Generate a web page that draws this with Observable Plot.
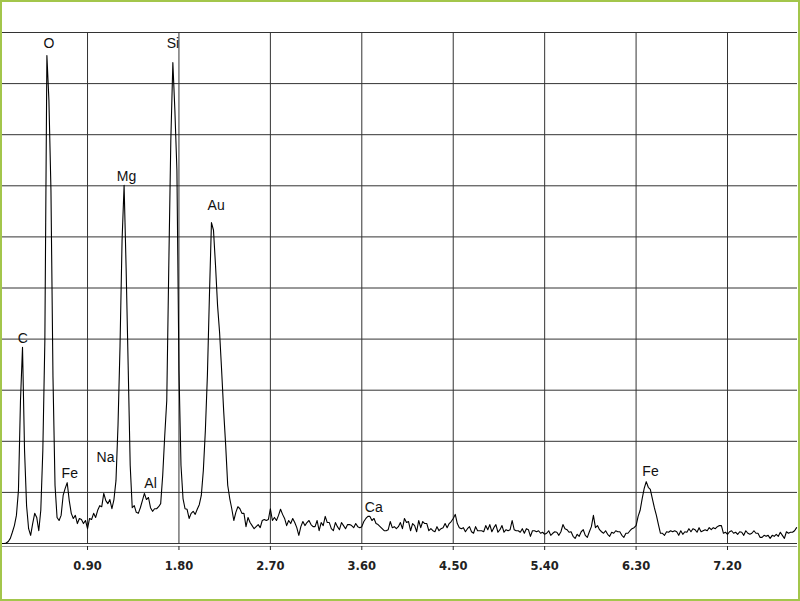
<!DOCTYPE html>
<html><head><meta charset="utf-8">
<script src="https://cdn.jsdelivr.net/npm/d3@7"></script>
<script src="https://cdn.jsdelivr.net/npm/@observablehq/plot@0.6"></script>
<style>
html,body{margin:0;padding:0;background:#fff;}
#wrap{position:relative;width:800px;height:601px;overflow:hidden;background:#fff;}
#chart{position:absolute;left:0;top:0;}
#border{position:absolute;left:0;top:0;width:800px;height:601px;box-sizing:border-box;border:2px solid #a3c64b;pointer-events:none;}
</style></head><body>
<div id="wrap"><div id="chart"></div><div id="border"></div></div>
<script>
// EDS spectrum: channel grid (keV) and counts per channel
const channelStart = 0.06;
const channelWidth = 0.02;
const counts = [
  0,0,1,4,10,22,35,55,104,280,
  384,182,74,29,16,39,59,51,25,65,
  182,397,955,867,691,325,114,51,45,55,
  94,108,119,84,59,49,55,39,49,47,
  39,45,29,49,47,59,51,65,74,72,
  98,84,78,86,68,86,123,231,387,593,
  701,538,348,153,70,74,61,59,70,84,
  98,86,90,70,63,68,68,72,78,133,
  211,280,544,789,941,847,730,339,153,88,
  68,67,49,59,63,57,67,76,94,143,
  221,329,485,628,613,544,466,413,339,260,
  192,114,88,68,45,61,72,68,59,59,
  33,51,41,35,29,33,37,31,45,47,
  45,47,68,45,51,45,55,67,57,49,
  35,45,39,49,41,31,16,33,43,35,
  41,45,37,33,33,45,25,41,35,53,
  41,41,29,25,41,33,27,41,35,29,
  37,37,35,31,39,33,31,33,43,49,
  53,53,45,49,39,37,33,29,25,25,
  27,43,31,33,29,33,41,29,49,41,
  43,25,39,35,23,45,31,43,39,39,
  25,29,25,23,33,25,29,31,39,31,
  39,43,49,57,39,31,29,31,23,29,
  33,23,20,33,25,25,25,23,35,27,
  37,23,31,37,22,27,35,22,27,25,
  27,45,27,25,25,22,29,20,29,27,
  14,25,25,23,25,20,22,18,20,25,
  16,20,23,22,16,23,37,29,27,22,
  23,14,10,18,14,23,27,16,12,23,
  33,55,31,35,27,23,20,25,18,14,
  22,20,25,23,23,16,12,20,20,25,
  29,31,35,53,65,88,108,121,110,106,
  88,70,55,37,20,20,16,23,22,25,
  23,25,23,16,25,18,23,22,29,23,
  29,27,22,31,23,25,27,25,31,27,
  31,29,33,35,35,20,22,18,23,25,
  20,22,18,23,22,16,25,20,18,20,
  25,20,20,12,12,16,14,16,10,16,
  14,18,14,22,16,10,23,20,22,22,
  25,31
];

// Peak labels
const labelNames  = ["C", "O", "Fe", "Na", "Mg", "Al", "Si", "Au", "Ca", "Fe"];
const labelEnergy = [0.263, 0.519, 0.725, 1.077, 1.284, 1.520, 1.741, 2.166, 3.718, 6.442];
const labelCounts = [401, 979, 137, 168, 718, 117, 979, 661, 70, 141];

// Axis ticks and grid
const tickEnergies = [0.90, 1.80, 2.70, 3.60, 4.50, 5.40, 6.30, 7.20];
const countGrid = [0, 100, 200, 300, 400, 500, 600, 700, 800, 900, 1000];

const spectrum = counts.map((c, i) => ({energy: channelStart + i * channelWidth, counts: c}));
const labels = labelNames.map((name, i) => ({name, energy: labelEnergy[i], counts: labelCounts[i]}));

const gridColor = "#333";

const chart = Plot.plot({
  width: 800,
  height: 601,
  marginLeft: 2,
  marginRight: 3,
  marginTop: 32,
  marginBottom: 58,
  x: {domain: [0.063, 7.889], axis: null},
  y: {domain: [0, 1000], axis: null},
  style: {background: "transparent", fontFamily: "DejaVu Sans", overflow: "visible"},
  marks: [
    Plot.ruleY(countGrid, {stroke: gridColor, strokeWidth: 1}),
    Plot.ruleX(tickEnergies, {stroke: gridColor, strokeWidth: 1}),
    Plot.ruleY([0], {dy: 3, stroke: "#9a9a9a", strokeWidth: 1}),
    Plot.axisX(tickEnergies, {
      tickSize: 4, dy: 3, tickPadding: 11,
      tickFormat: d3.format(".2f"),
      label: null,
      fontSize: 11.5, fontWeight: "bold", fontFamily: "DejaVu Sans",
      color: "#222"
    }),
    Plot.line(spectrum, {x: "energy", y: "counts", stroke: "#000", strokeWidth: 1.1}),
    Plot.text(labels, {
      x: "energy", y: "counts", text: "name",
      fontSize: 14, fontFamily: "Liberation Sans", fill: "#111"
    })
  ]
});
document.getElementById("chart").appendChild(chart);
</script>
</body></html>
